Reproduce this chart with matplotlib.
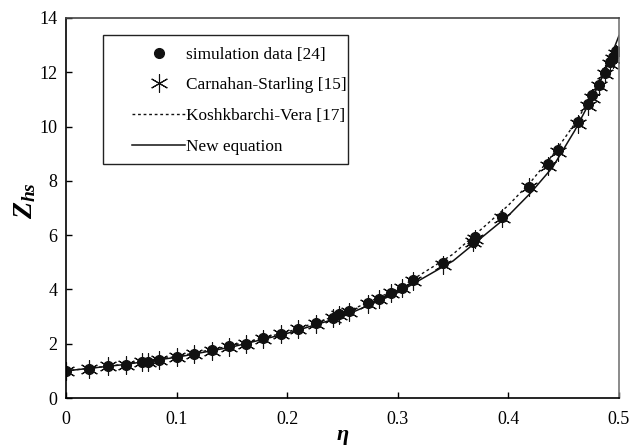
import matplotlib.pyplot as plt
from matplotlib.patches import Rectangle

plt.rcParams['font.family'] = ['Liberation Serif', 'DejaVu Serif']
plt.rcParams['mathtext.fontset'] = 'custom'
plt.rcParams['mathtext.it'] = 'Liberation Serif:italic:bold'
plt.rcParams['mathtext.rm'] = 'Liberation Serif:bold'

# simulation data [24]
eta_sim = [0.0, 0.021, 0.038, 0.054, 0.069, 0.074, 0.084, 0.100, 0.116, 0.132,
           0.147, 0.163, 0.178, 0.194, 0.210, 0.226, 0.241, 0.247, 0.256, 0.273,
           0.283, 0.294, 0.304, 0.314, 0.341, 0.368, 0.370, 0.394, 0.419, 0.436,
           0.445, 0.463, 0.472, 0.476, 0.482, 0.487, 0.492, 0.495, 0.497]
z_sim = [1.00, 1.07, 1.18, 1.23, 1.31, 1.34, 1.41, 1.52, 1.62, 1.76,
         1.90, 1.99, 2.20, 2.36, 2.54, 2.75, 2.94, 3.08, 3.21, 3.49,
         3.64, 3.86, 4.06, 4.35, 4.96, 5.76, 5.92, 6.66, 7.79, 8.61,
         9.14, 10.18, 10.83, 11.16, 11.53, 11.96, 12.39, 12.58, 12.80]

# Carnahan-Starling [15] markers
z_cs = [1.00, 1.07, 1.17, 1.23, 1.31, 1.34, 1.41, 1.51, 1.62, 1.75,
        1.89, 1.99, 2.19, 2.35, 2.53, 2.74, 2.93, 3.04, 3.18, 3.47,
        3.64, 3.85, 4.04, 4.30, 4.90, 5.75, 5.85, 6.63, 7.76, 8.55,
        9.08, 10.10, 10.75, 11.06, 11.50, 11.92, 12.30, 12.50, 12.68]

# Koshkbarchi-Vera [17], dotted curve
eta_kv = [0.0, 0.05, 0.1, 0.15, 0.2, 0.25, 0.3, 0.35, 0.4, 0.42, 0.44,
          0.46, 0.48, 0.49, 0.497]
z_kv = [1.0, 1.23, 1.53, 1.93, 2.43, 3.10, 4.02, 5.30, 7.10, 7.95, 8.95,
        10.10, 11.45, 12.20, 12.85]

# New equation, solid curve
eta_new = [0.0, 0.05, 0.1, 0.15, 0.2, 0.25, 0.3, 0.35, 0.4, 0.42, 0.44,
           0.46, 0.48, 0.49, 0.5]
z_new = [1.0, 1.22, 1.50, 1.88, 2.38, 3.00, 3.88, 5.05, 6.72, 7.55, 8.50,
         9.85, 11.40, 12.30, 13.35]

fig = plt.figure(figsize=(6.32, 4.45), dpi=100)
ax = fig.add_axes([0.1044, 0.1056, 0.8750, 0.8540])

ax.plot(eta_sim, z_sim, 'o', color='#111111', markersize=7, label='simulation data [24]')
ax.plot(eta_sim, z_cs, linestyle='none', marker=(6, 2, 0), color='#111111',
        markersize=13, markeredgewidth=0.8, label='Carnahan-Starling [15]')
ax.plot(eta_kv, z_kv, linestyle=(0, (2, 2)), color='#111111', linewidth=1.0,
        label='Koshkbarchi-Vera [17]')
ax.plot(eta_new, z_new, '-', color='#111111', linewidth=1.1, label='New equation')

ax.set_xlim(0, 0.5)
ax.set_ylim(0, 14)
ax.set_xticks([0, 0.1, 0.2, 0.3, 0.4, 0.5])
ax.set_xticklabels(['0', '0.1', '0.2', '0.3', '0.4', '0.5'])
ax.set_yticks(range(0, 15, 2))
ax.tick_params(direction='in', labelsize=13, length=4, width=1,
               top=False, right=False)
ax.tick_params(axis='x', pad=9)
ax.tick_params(axis='y', pad=6)
for s in ax.spines.values():
    s.set_linewidth(1.2)
ax.spines['right'].set_color('#777777')
ax.spines['top'].set_color('#444444')

ax.set_xlabel('η', fontsize=16, fontweight='bold', fontstyle='italic', labelpad=-2)
fig.text(0.04, 0.55, r'$Z_{hs}$', fontsize=20, rotation=90,
         ha='center', va='center')

# legend box drawn separately so the wide left margin can match
fig.patches.append(Rectangle((103 / 632, 1 - 164 / 445), 245 / 632, 129 / 445,
                             transform=fig.transFigure, fill=False,
                             edgecolor='#222222', linewidth=1.0, zorder=5))
leg = ax.legend(loc='upper left', bbox_to_anchor=(132 / 632, 1 - 46.5 / 445),
                bbox_transform=fig.transFigure, fontsize=12.4, frameon=False,
                handlelength=3.1, handletextpad=0.05, borderpad=0,
                labelspacing=0.86, borderaxespad=0)

fig.savefig('out.png', dpi=100)
